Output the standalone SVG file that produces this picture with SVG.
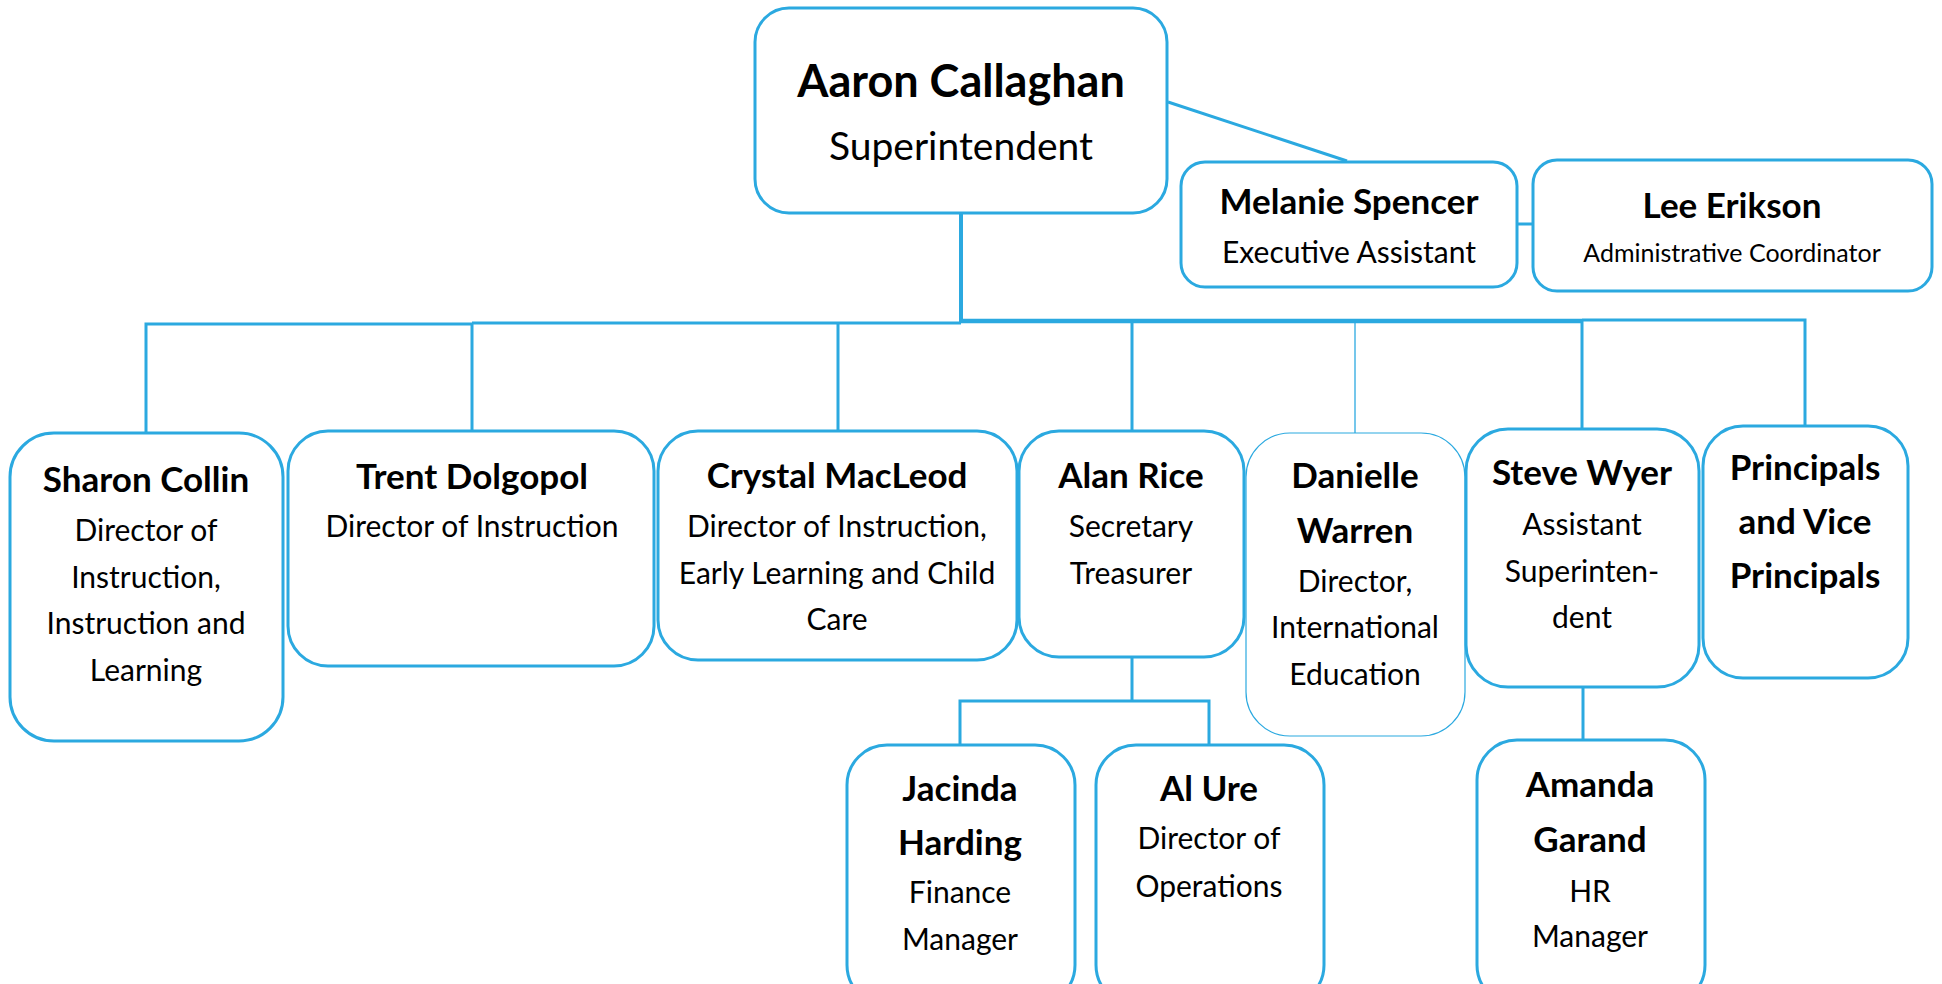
<svg xmlns="http://www.w3.org/2000/svg" width="1942" height="984" viewBox="0 0 1942 984">
<style>
.box{fill:#fff;stroke:#2BA9E0;stroke-width:3}
.thin{stroke-width:1.2}
.ln{fill:none;stroke:#2BA9E0;stroke-width:3}
text{font-family:Lato,"Open Sans","Liberation Sans",sans-serif;text-anchor:middle;fill:#000}
.n{font-weight:bold;font-size:35px}
.r{font-size:30px}
</style>
<rect width="1942" height="984" fill="#fff"/>
<g id="connectors">
<path class="ln" d="M1168,102 L1347,161"/>
<path class="ln" d="M1517,224 L1532,224"/>
<path class="ln" style="stroke-width:4" d="M961,213 L961,322"/>
<path class="ln" d="M146,433 L146,324 L472,324 L472,431 M472,323 L961,323 M838,323 L838,431"/>
<path class="ln" style="stroke-width:4.5" d="M961,321 L1582,321"/>
<path class="ln" d="M1132,321 L1132,431 M1582,321 L1582,429 M1582,320 L1805,320 L1805,426"/>
<path class="ln" style="stroke-width:1.3" d="M1355,323 L1355,433"/>
<path class="ln" d="M1132,657 L1132,701 M960,745 L960,701 L1209,701 L1209,745"/>
<path class="ln" d="M1583,687 L1583,740"/>
</g>
<g id="aaron">
<rect class="box" x="755" y="8" width="412" height="205" rx="34"/>
<text x="961" y="97" style="font-weight:bold;font-size:45px">Aaron Callaghan</text>
<text x="961" y="160" style="font-size:39px">Superintendent</text>
</g>
<g id="melanie">
<rect class="box" x="1181" y="162" width="336" height="125" rx="24"/>
<text class="n" x="1349" y="214">Melanie Spencer</text>
<text class="r" x="1349" y="263">Executive Assistant</text>
</g>
<g id="lee">
<rect class="box" x="1533" y="160" width="399" height="131" rx="24"/>
<text class="n" x="1732" y="218">Lee Erikson</text>
<text x="1732" y="262" style="font-size:25px">Administrative Coordinator</text>
</g>
<g id="sharon">
<rect class="box" x="10" y="433" width="273" height="308" rx="44"/>
<text class="n" x="146" y="492">Sharon Collin</text>
<text class="r" x="146" y="541">Director of</text>
<text class="r" x="146" y="588">Instruction,</text>
<text class="r" x="146" y="634">Instruction and</text>
<text class="r" x="146" y="681">Learning</text>
</g>
<g id="trent">
<rect class="box" x="288" y="431" width="366" height="235" rx="40"/>
<text class="n" x="472" y="489">Trent Dolgopol</text>
<text class="r" x="472" y="537">Director of Instruction</text>
</g>
<g id="crystal">
<rect class="box" x="658" y="431" width="359" height="229" rx="40"/>
<text class="n" x="837" y="488">Crystal MacLeod</text>
<text class="r" x="837" y="537">Director of Instruction,</text>
<text class="r" x="837" y="584">Early Learning and Child</text>
<text class="r" x="837" y="630">Care</text>
</g>
<g id="alan">
<rect class="box" x="1019" y="431" width="225" height="226" rx="40"/>
<text class="n" x="1131" y="488">Alan Rice</text>
<text class="r" x="1131" y="537">Secretary</text>
<text class="r" x="1131" y="584">Treasurer</text>
</g>
<g id="danielle">
<rect class="box thin" x="1246" y="433" width="219" height="303" rx="44"/>
<text class="n" x="1355" y="488">Danielle</text>
<text class="n" x="1355" y="543">Warren</text>
<text class="r" x="1355" y="592">Director,</text>
<text class="r" x="1355" y="638">International</text>
<text class="r" x="1355" y="685">Education</text>
</g>
<g id="steve">
<rect class="box" x="1466" y="429" width="233" height="258" rx="42"/>
<text class="n" x="1582" y="485">Steve Wyer</text>
<text class="r" x="1582" y="535">Assistant</text>
<text class="r" x="1582" y="582">Superinten-</text>
<text class="r" x="1582" y="628">dent</text>
</g>
<g id="principals">
<rect class="box" x="1703" y="426" width="205" height="252" rx="40"/>
<text class="n" x="1805" y="480">Principals</text>
<text class="n" x="1805" y="534">and Vice</text>
<text class="n" x="1805" y="588">Principals</text>
</g>
<g id="jacinda">
<rect class="box" x="847" y="745" width="228" height="260" rx="40"/>
<text class="n" x="960" y="801">Jacinda</text>
<text class="n" x="960" y="855">Harding</text>
<text class="r" x="960" y="903">Finance</text>
<text class="r" x="960" y="950">Manager</text>
</g>
<g id="alure">
<rect class="box" x="1096" y="745" width="228" height="260" rx="40"/>
<text class="n" x="1209" y="801">Al Ure</text>
<text class="r" x="1209" y="849">Director of</text>
<text class="r" x="1209" y="897">Operations</text>
</g>
<g id="amanda">
<rect class="box" x="1477" y="740" width="228" height="265" rx="40"/>
<text class="n" x="1590" y="797">Amanda</text>
<text class="n" x="1590" y="852">Garand</text>
<text class="r" x="1590" y="902">HR</text>
<text class="r" x="1590" y="947">Manager</text>
</g>
</svg>
